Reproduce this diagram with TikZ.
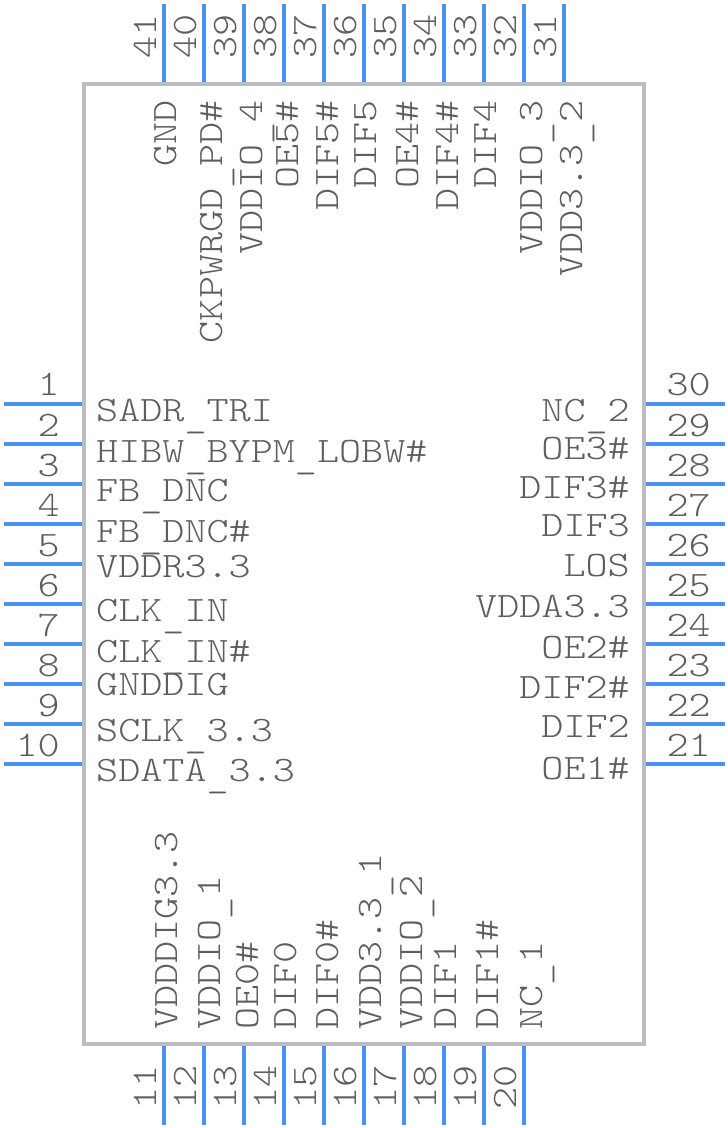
\documentclass[tikz,border=0pt]{standalone}
\usepackage{fontspec}
\setmonofont[FakeStretch=1.175]{Latin Modern Mono Light}
\definecolor{pinblue}{HTML}{4A90F5}
\definecolor{bodygray}{HTML}{BEBEBE}
\definecolor{textgray}{HTML}{5E5E5E}
\newcommand{\usc}{\raisebox{-6pt}{\_}}
\tikzset{
  txt/.style={text=textgray,inner sep=0pt,font=\ttfamily\fontsize{35.8}{36}\selectfont},
  pin/.style={pinblue,line width=4pt,shorten >=2pt},
  numl/.style={txt,anchor=base east},
  numv/.style={txt,anchor=base west,rotate=90},
  namel/.style={txt,anchor=base west},
  namer/.style={txt,anchor=base east},
  namet/.style={txt,anchor=base east,rotate=90},
  nameb/.style={txt,anchor=base west,rotate=90}
}
\begin{document}
\begin{tikzpicture}[x=1pt,y=-1pt]
  \useasboundingbox (0,0) rectangle (728,1128);
  % corpo del chip
  \node[draw=bodygray,line width=4pt,minimum width=560pt,minimum height=960pt,inner sep=0pt,outer sep=0pt] (body) at (364,564) {};

  % pin a sinistra
  \coordinate (p1) at (3.5,404); \draw[pin] (p1) -- (p1 -| body.west);
  \node[numl] (n1) at (60,395.5) {1}; \node[namel] (s1) at (96,421) {SADR\usc TRI};
  \coordinate (p2) at (3.5,444); \draw[pin] (p2) -- (p2 -| body.west);
  \node[numl] (n2) at (60,436) {2}; \node[namel] (s2) at (96,462) {HIBW\usc BYPM\usc LOBW\#};
  \coordinate (p3) at (3.5,484); \draw[pin] (p3) -- (p3 -| body.west);
  \node[numl] (n3) at (60,476) {3}; \node[namel] (s3) at (96,501) {FB\usc DNC};
  \coordinate (p4) at (3.5,524); \draw[pin] (p4) -- (p4 -| body.west);
  \node[numl] (n4) at (60,516) {4}; \node[namel] (s4) at (96,542) {FB\usc DNC\#};
  \coordinate (p5) at (3.5,564); \draw[pin] (p5) -- (p5 -| body.west);
  \node[numl] (n5) at (60,556) {5}; \node[namel] (s5) at (96,577) {VDDR3.3};
  \coordinate (p6) at (3.5,604); \draw[pin] (p6) -- (p6 -| body.west);
  \node[numl] (n6) at (60,596) {6}; \node[namel] (s6) at (96,621) {CLK\usc IN};
  \coordinate (p7) at (3.5,644); \draw[pin] (p7) -- (p7 -| body.west);
  \node[numl] (n7) at (60,636) {7}; \node[namel] (s7) at (96,662) {CLK\usc IN\#};
  \coordinate (p8) at (3.5,684); \draw[pin] (p8) -- (p8 -| body.west);
  \node[numl] (n8) at (60,676) {8}; \node[namel] (s8) at (96,695) {GNDDIG};
  \coordinate (p9) at (3.5,724); \draw[pin] (p9) -- (p9 -| body.west);
  \node[numl] (n9) at (60,716) {9}; \node[namel] (s9) at (96,741) {SCLK\usc 3.3};
  \coordinate (p10) at (3.5,764); \draw[pin] (p10) -- (p10 -| body.west);
  \node[numl] (n10) at (60,756) {10}; \node[namel] (s10) at (96,781) {SDATA\usc 3.3};

  % pin in basso
  \coordinate (p11) at (164,1124.5); \draw[pin] (p11) -- (p11 |- body.south);
  \node[numv] (n11) at (156.5,1110) {11}; \node[nameb] (s11) at (177,1030) {VDDDIG3.3};
  \coordinate (p12) at (204,1124.5); \draw[pin] (p12) -- (p12 |- body.south);
  \node[numv] (n12) at (196.5,1110) {12}; \node[nameb] (s12) at (220,1030) {VDDIO\usc 1};
  \coordinate (p13) at (244,1124.5); \draw[pin] (p13) -- (p13 |- body.south);
  \node[numv] (n13) at (236.5,1110) {13}; \node[nameb] (s13) at (258,1030) {OE0\#};
  \coordinate (p14) at (284,1124.5); \draw[pin] (p14) -- (p14 |- body.south);
  \node[numv] (n14) at (276.5,1110) {14}; \node[nameb] (s14) at (296,1030) {DIF0};
  \coordinate (p15) at (324,1124.5); \draw[pin] (p15) -- (p15 |- body.south);
  \node[numv] (n15) at (316.5,1110) {15}; \node[nameb] (s15) at (338,1030) {DIF0\#};
  \coordinate (p16) at (364,1124.5); \draw[pin] (p16) -- (p16 |- body.south);
  \node[numv] (n16) at (356.5,1110) {16}; \node[nameb] (s16) at (381,1030) {VDD3.3\usc 1};
  \coordinate (p17) at (404,1124.5); \draw[pin] (p17) -- (p17 |- body.south);
  \node[numv] (n17) at (396.5,1110) {17}; \node[nameb] (s17) at (422,1030) {VDDIO\usc 2};
  \coordinate (p18) at (444,1124.5); \draw[pin] (p18) -- (p18 |- body.south);
  \node[numv] (n18) at (436.5,1110) {18}; \node[nameb] (s18) at (456,1030) {DIF1};
  \coordinate (p19) at (484,1124.5); \draw[pin] (p19) -- (p19 |- body.south);
  \node[numv] (n19) at (476.5,1110) {19}; \node[nameb] (s19) at (498,1030) {DIF1\#};
  \coordinate (p20) at (524,1124.5); \draw[pin] (p20) -- (p20 |- body.south);
  \node[numv] (n20) at (516.5,1110) {20}; \node[nameb] (s20) at (542,1030) {NC\usc 1};

  % pin a destra
  \coordinate (p21) at (724.5,764); \draw[pin] (p21) -- (p21 -| body.east);
  \node[numl] (n21) at (711,756) {21}; \node[namer] (s21) at (630,779) {OE1\#};
  \coordinate (p22) at (724.5,724); \draw[pin] (p22) -- (p22 -| body.east);
  \node[numl] (n22) at (711,716) {22}; \node[namer] (s22) at (630,737) {DIF2};
  \coordinate (p23) at (724.5,684); \draw[pin] (p23) -- (p23 -| body.east);
  \node[numl] (n23) at (711,676) {23}; \node[namer] (s23) at (630,698) {DIF2\#};
  \coordinate (p24) at (724.5,644); \draw[pin] (p24) -- (p24 -| body.east);
  \node[numl] (n24) at (711,636) {24}; \node[namer] (s24) at (630,658) {OE2\#};
  \coordinate (p25) at (724.5,604); \draw[pin] (p25) -- (p25 -| body.east);
  \node[numl] (n25) at (711,596) {25}; \node[namer] (s25) at (630,617) {VDDA3.3};
  \coordinate (p26) at (724.5,564); \draw[pin] (p26) -- (p26 -| body.east);
  \node[numl] (n26) at (711,556) {26}; \node[namer] (s26) at (630,576) {LOS};
  \coordinate (p27) at (724.5,524); \draw[pin] (p27) -- (p27 -| body.east);
  \node[numl] (n27) at (711,516) {27}; \node[namer] (s27) at (630,536) {DIF3};
  \coordinate (p28) at (724.5,484); \draw[pin] (p28) -- (p28 -| body.east);
  \node[numl] (n28) at (711,476) {28}; \node[namer] (s28) at (630,498) {DIF3\#};
  \coordinate (p29) at (724.5,444); \draw[pin] (p29) -- (p29 -| body.east);
  \node[numl] (n29) at (711,436) {29}; \node[namer] (s29) at (630,459) {OE3\#};
  \coordinate (p30) at (724.5,404); \draw[pin] (p30) -- (p30 -| body.east);
  \node[numl] (n30) at (711,395.5) {30}; \node[namer] (s30) at (630,421) {NC\usc 2};

  % pin in alto
  \coordinate (p31) at (564,3.5); \draw[pin] (p31) -- (p31 |- body.north);
  \node[numv] (n31) at (556.5,59) {31}; \node[namet] (s31) at (582,100) {VDD3.3\usc 2};
  \coordinate (p32) at (524,3.5); \draw[pin] (p32) -- (p32 |- body.north);
  \node[numv] (n32) at (516.5,59) {32}; \node[namet] (s32) at (542,100) {VDDIO\usc 3};
  \coordinate (p33) at (484,3.5); \draw[pin] (p33) -- (p33 |- body.north);
  \node[numv] (n33) at (476.5,59) {33}; \node[namet] (s33) at (496,100) {DIF4};
  \coordinate (p34) at (444,3.5); \draw[pin] (p34) -- (p34 |- body.north);
  \node[numv] (n34) at (436.5,59) {34}; \node[namet] (s34) at (458,100) {DIF4\#};
  \coordinate (p35) at (404,3.5); \draw[pin] (p35) -- (p35 |- body.north);
  \node[numv] (n35) at (396.5,59) {35}; \node[namet] (s35) at (418,100) {OE4\#};
  \coordinate (p36) at (364,3.5); \draw[pin] (p36) -- (p36 |- body.north);
  \node[numv] (n36) at (356.5,59) {36}; \node[namet] (s36) at (376,100) {DIF5};
  \coordinate (p37) at (324,3.5); \draw[pin] (p37) -- (p37 |- body.north);
  \node[numv] (n37) at (316.5,59) {37}; \node[namet] (s37) at (338,100) {DIF5\#};
  \coordinate (p38) at (284,3.5); \draw[pin] (p38) -- (p38 |- body.north);
  \node[numv] (n38) at (276.5,59) {38}; \node[namet] (s38) at (298,100) {OE5\#};
  \coordinate (p39) at (244,3.5); \draw[pin] (p39) -- (p39 |- body.north);
  \node[numv] (n39) at (236.5,59) {39}; \node[namet] (s39) at (262,100) {VDDIO\usc 4};
  \coordinate (p40) at (204,3.5); \draw[pin] (p40) -- (p40 |- body.north);
  \node[numv] (n40) at (196.5,59) {40}; \node[namet] (s40) at (222,100) {CKPWRGD\usc PD\#};
  \coordinate (p41) at (164,3.5); \draw[pin] (p41) -- (p41 |- body.north);
  \node[numv] (n41) at (156.5,59) {41}; \node[namet] (s41) at (176,100) {GND};
\end{tikzpicture}
\end{document}
